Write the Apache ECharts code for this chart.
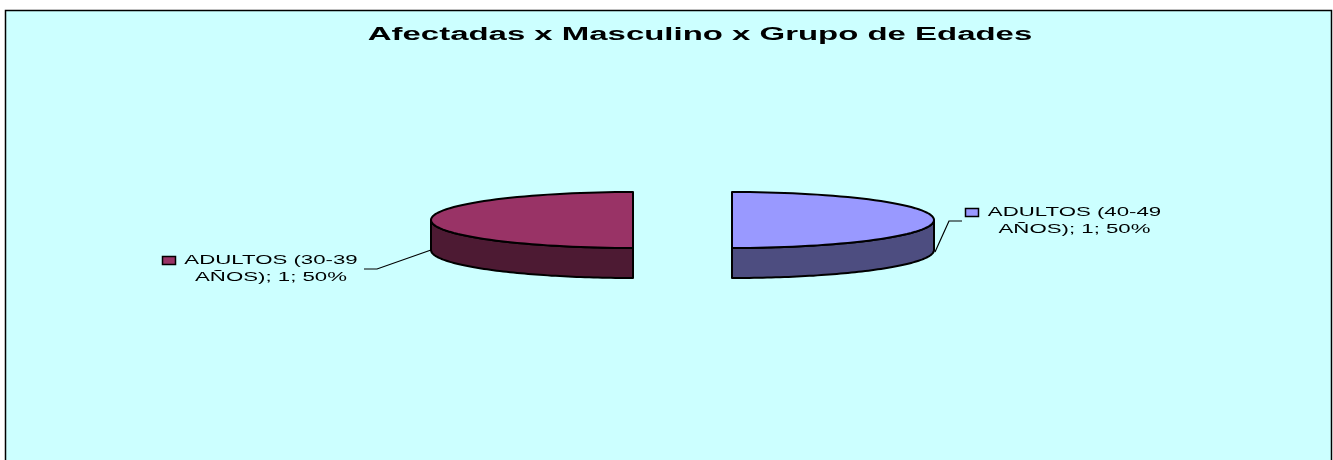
<!DOCTYPE html>
<html>
<head>
<meta charset="utf-8">
<style>html,body{margin:0;padding:0;background:#fff}#c{width:1333px;height:460px}</style>
<script src="https://cdn.jsdelivr.net/npm/echarts@6/dist/echarts.min.js"></script>
</head>
<body>
<div id="c"></div>
<script>
const chartTitle = 'Afectadas x Masculino x Grupo de Edades';
const categories = ['ADULTOS (40-49 AÑOS)', 'ADULTOS (30-39 AÑOS)'];
const values = [1, 1];
const topColors = ['#9999FF', '#993366'];
const sideColors = ['#4D4D80', '#4D1A33'];

const total = values.reduce((a, b) => a + b, 0);
const FONT = '"Liberation Sans", Arial, sans-serif';
const pie = { cx: 682.5, cy: 220, rx: 202, ry: 28, depth: 30, explode: 49.5 };
const callouts = [
  { text: [1074.5, 220.5], key: [965.5, 208.5], line: [[935, 252], [949, 221], [962, 221]] },
  { text: [271, 269], key: [162.5, 256.5], line: [[431, 250], [377, 269], [364, 269]] }
];

function arc(cx, cy, from, to, dy) {
  const pts = [], n = 72;
  for (let k = 0; k <= n; k++) {
    const t = from + (to - from) * k / n;
    pts.push([cx + pie.rx * Math.sin(t), cy - pie.ry * Math.cos(t) + dy]);
  }
  return pts;
}

function labelText(i) {
  const name = categories[i];
  const cut = name.lastIndexOf(' ');
  const pct = Math.round(values[i] / total * 100);
  return name.slice(0, cut) + '\n' + name.slice(cut + 1) + '; ' + values[i] + '; ' + pct + '%';
}

function renderSlice(params, api) {
  const i = params.dataIndex;
  let start = 0;
  for (let k = 0; k < i; k++) start += values[k] / total * 2 * Math.PI;
  const end = start + api.value(0) / total * 2 * Math.PI;
  const mid = (start + end) / 2;
  const cx = pie.cx + pie.explode * Math.sin(mid);
  const cy = pie.cy;
  const edge = { stroke: '#000', lineWidth: 2, lineJoin: 'round' };
  const children = [];

  const a = Math.max(start, Math.PI / 2), b = Math.min(end, 3 * Math.PI / 2);
  if (b > a) {
    const upper = arc(cx, cy, a, b, 0);
    const lower = arc(cx, cy, b, a, pie.depth);
    children.push({ type: 'polygon', shape: { points: upper.concat(lower) },
      style: Object.assign({ fill: sideColors[i] }, edge) });
  }
  const top = [[cx, cy]].concat(arc(cx, cy, start, end, 0));
  children.push({ type: 'polygon', shape: { points: top },
    style: Object.assign({ fill: topColors[i] }, edge) });

  const c = callouts[i];
  children.push({ type: 'polyline', shape: { points: c.line },
    style: { stroke: '#000', lineWidth: 1.2, fill: 'none' } });
  children.push({ type: 'rect', shape: { x: c.key[0], y: c.key[1], width: 13, height: 8 },
    style: { fill: topColors[i], stroke: '#000', lineWidth: 1.5 } });
  children.push({ type: 'text', x: c.text[0], y: c.text[1], scaleX: 1.71,
    style: { text: labelText(i), font: '13px ' + FONT, fill: '#000', align: 'center',
      verticalAlign: 'middle', lineHeight: 17 } });
  return { type: 'group', children };
}

const chart = echarts.init(document.getElementById('c'), null, { renderer: 'canvas' });
chart.setOption({
  animation: false,
  backgroundColor: '#fff',
  graphic: [
    { type: 'rect', z: 0, shape: { x: 5.5, y: 10.5, width: 1326, height: 460 },
      style: { fill: '#CCFFFF', stroke: '#000', lineWidth: 1.5 } },
    { type: 'text', z: 1, x: 700, y: 35, scaleX: 1.83,
      style: { text: chartTitle, font: 'bold 18px ' + FONT, fill: '#000', align: 'center', verticalAlign: 'middle' } }
  ],
  series: [{
    type: 'custom',
    coordinateSystem: 'none',
    renderItem: renderSlice,
    data: values.map((v, i) => ({ name: categories[i], value: [v] })),
    z: 5
  }]
});
</script>
</body>
</html>
